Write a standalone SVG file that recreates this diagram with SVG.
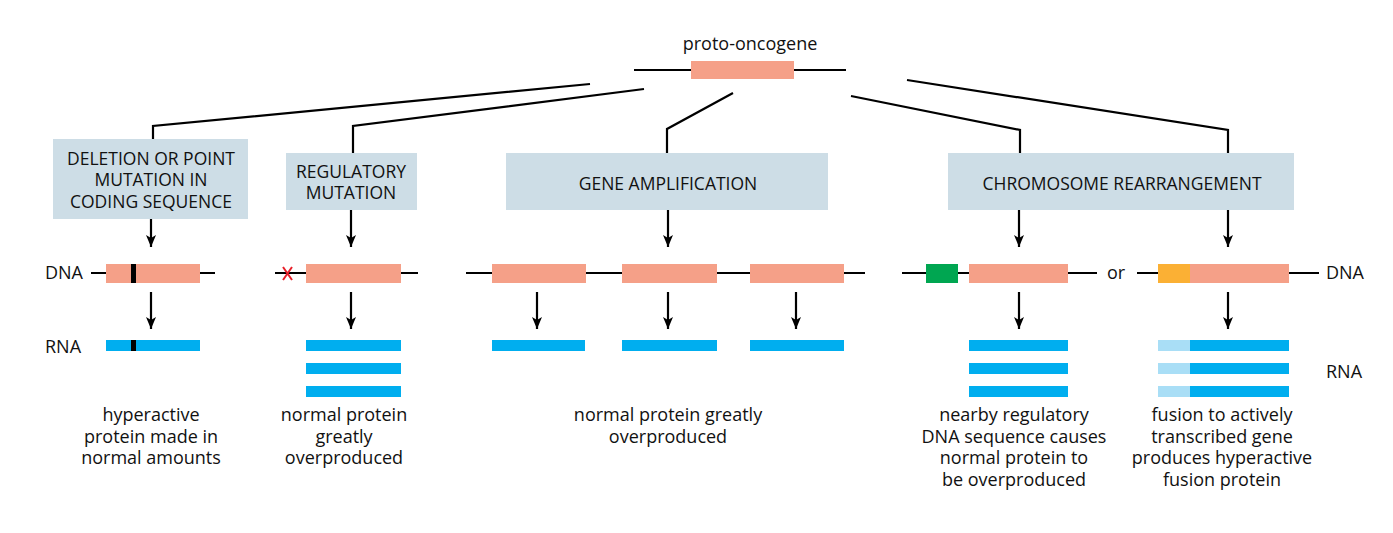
<svg xmlns="http://www.w3.org/2000/svg" width="1393" height="533" viewBox="0 0 1393 533">
<defs>
<marker id="ah" markerWidth="12" markerHeight="10" refX="12" refY="5" orient="auto" markerUnits="userSpaceOnUse" viewBox="0 0 12 10">
<path d="M0,0 L12,5 L0,10 L3,5 Z" fill="#000"/>
</marker>
<style>
text{font-family:"Open Sans","Liberation Sans",sans-serif;fill:#111}
.t{font-size:17.5px;text-anchor:middle}
.b{font-size:18px;text-anchor:middle}
.lab{font-size:18px}
.box{fill:#cddde6}
.ln{stroke:#000;stroke-width:2.2;fill:none}
.arr{stroke:#000;stroke-width:2.2;fill:none;marker-end:url(#ah)}
.gene{fill:#f5a088}
.rna{fill:#00aeef}
.rnal{fill:#a9def6}
</style>
</defs>
<rect width="1393" height="533" fill="#fff"/>

<g id="proto-oncogene">
<text class="b" x="750" y="50">proto-oncogene</text>
<line class="ln" x1="634" y1="70" x2="846" y2="70"/>
<rect class="gene" x="691" y="61" width="103" height="18"/>
</g>

<g id="connectors">
<polyline class="ln" points="590,84 153,126 153,139"/>
<polyline class="ln" points="644,89 353,126 353,153"/>
<polyline class="ln" points="733,93 667,129 667,153"/>
<polyline class="ln" points="851,96 1020,130 1020,153"/>
<polyline class="ln" points="907,80 1228,130 1228,153"/>
<line class="arr" x1="151" y1="219" x2="151" y2="247"/>
<line class="arr" x1="351" y1="210" x2="351" y2="247"/>
<line class="arr" x1="668" y1="210" x2="668" y2="247"/>
<line class="arr" x1="1019" y1="210" x2="1019" y2="247"/>
<line class="arr" x1="1228" y1="210" x2="1228" y2="247"/>
<line class="arr" x1="151" y1="292" x2="151" y2="329"/>
<line class="arr" x1="351" y1="292" x2="351" y2="329"/>
<line class="arr" x1="537" y1="292" x2="537" y2="329"/>
<line class="arr" x1="668" y1="292" x2="668" y2="329"/>
<line class="arr" x1="796" y1="292" x2="796" y2="329"/>
<line class="arr" x1="1019" y1="292" x2="1019" y2="329"/>
<line class="arr" x1="1228" y1="292" x2="1228" y2="329"/>
</g>

<g id="deletion">
<rect class="box" x="53" y="139" width="195" height="80"/>
<text class="t" x="151" y="164.5">DELETION OR POINT<tspan x="151" dy="21.5">MUTATION IN</tspan><tspan x="151" dy="21.5">CODING SEQUENCE</tspan></text>
</g>
<g id="regulatory">
<rect class="box" x="286" y="153" width="131" height="57"/>
<text class="t" x="351" y="177.5">REGULATORY<tspan x="351" dy="21.5">MUTATION</tspan></text>
</g>
<g id="amplification">
<rect class="box" x="506" y="153" width="322" height="57"/>
<text class="t" x="668" y="190">GENE AMPLIFICATION</text>
</g>
<g id="rearrangement">
<rect class="box" x="948" y="153" width="346" height="57"/>
<text class="t" x="1122" y="190">CHROMOSOME REARRANGEMENT</text>
</g>

<g id="labels">
<text class="lab" x="45" y="279">DNA</text>
<text class="lab" x="45" y="353">RNA</text>
<text class="lab" x="1326" y="279">DNA</text>
<text class="lab" x="1326" y="378">RNA</text>
</g>

<g id="col1">
<line class="ln" x1="91" y1="273" x2="215" y2="273"/>
<rect class="gene" x="106" y="264" width="94" height="19"/>
<rect x="131" y="264" width="5" height="19" fill="#000"/>
<rect class="rna" x="106" y="340" width="94" height="11"/>
<rect x="131" y="340" width="5" height="11" fill="#000"/>
<text class="b" x="151" y="421">hyperactive<tspan x="151" dy="21.5">protein made in</tspan><tspan x="151" dy="21.5">normal amounts</tspan></text>
</g>

<g id="col2">
<line class="ln" x1="275" y1="273" x2="418" y2="273"/>
<path d="M283,267 L292,280 M292,267 L283,280" stroke="#e8202a" stroke-width="2" fill="none"/>
<rect class="gene" x="306" y="264" width="95" height="19"/>
<rect class="rna" x="306" y="340" width="95" height="11"/>
<rect class="rna" x="306" y="363" width="95" height="11"/>
<rect class="rna" x="306" y="386" width="95" height="11"/>
<text class="b" x="344" y="421">normal protein<tspan x="344" dy="21.5">greatly</tspan><tspan x="344" dy="21.5">overproduced</tspan></text>
</g>

<g id="col3">
<line class="ln" x1="466" y1="273" x2="865" y2="273"/>
<rect class="gene" x="492" y="264" width="94" height="19"/>
<rect class="gene" x="622" y="264" width="95" height="19"/>
<rect class="gene" x="750" y="264" width="94" height="19"/>
<rect class="rna" x="492" y="340" width="93" height="11"/>
<rect class="rna" x="622" y="340" width="95" height="11"/>
<rect class="rna" x="750" y="340" width="94" height="11"/>
<text class="b" x="668" y="421">normal protein greatly<tspan x="668" dy="21.5">overproduced</tspan></text>
</g>

<g id="col4">
<line class="ln" x1="902" y1="273" x2="1097" y2="273"/>
<rect x="926" y="264" width="32" height="19" fill="#00a651"/>
<rect class="gene" x="969" y="264" width="99" height="19"/>
<rect class="rna" x="969" y="340" width="99" height="11"/>
<rect class="rna" x="969" y="363" width="99" height="11"/>
<rect class="rna" x="969" y="386" width="99" height="11"/>
<text class="b" x="1014" y="421">nearby regulatory<tspan x="1014" dy="21.5">DNA sequence causes</tspan><tspan x="1014" dy="21.5">normal protein to</tspan><tspan x="1014" dy="21.5">be overproduced</tspan></text>
</g>

<g id="or">
<text class="lab" x="1116" y="279" text-anchor="middle">or</text>
</g>

<g id="col5">
<line class="ln" x1="1137" y1="273" x2="1319" y2="273"/>
<rect x="1158" y="264" width="32" height="19" fill="#fbb034"/>
<rect class="gene" x="1190" y="264" width="99" height="19"/>
<rect class="rnal" x="1158" y="340" width="32" height="11"/>
<rect class="rna" x="1190" y="340" width="99" height="11"/>
<rect class="rnal" x="1158" y="363" width="32" height="11"/>
<rect class="rna" x="1190" y="363" width="99" height="11"/>
<rect class="rnal" x="1158" y="386" width="32" height="11"/>
<rect class="rna" x="1190" y="386" width="99" height="11"/>
<text class="b" x="1222" y="421">fusion to actively<tspan x="1222" dy="21.5">transcribed gene</tspan><tspan x="1222" dy="21.5">produces hyperactive</tspan><tspan x="1222" dy="21.5">fusion protein</tspan></text>
</g>
</svg>
